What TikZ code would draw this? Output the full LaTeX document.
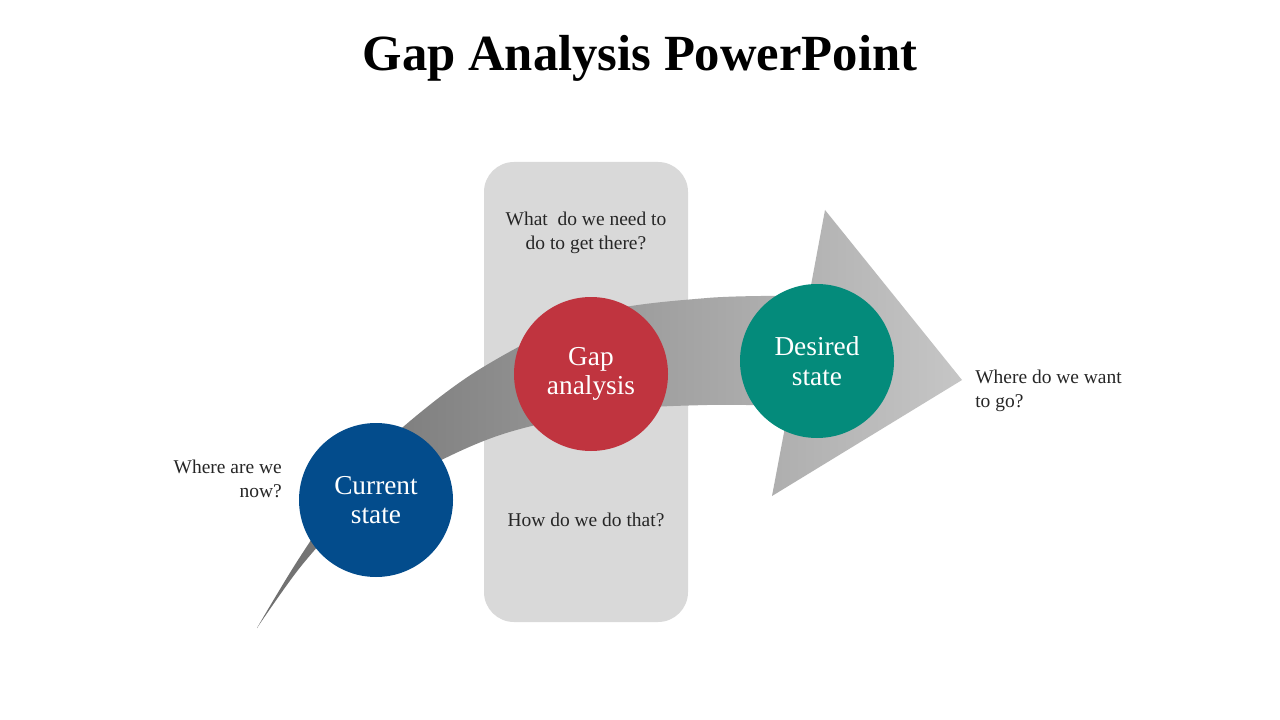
\documentclass[tikz,border=0pt]{standalone}
\usepackage{fontspec}
\setmainfont{Liberation Serif}
\definecolor{boxgray}{HTML}{D9D9D9}
\definecolor{cblue}{HTML}{034C8C}
\definecolor{cred}{HTML}{C0343F}
\definecolor{cteal}{HTML}{048B7B}
\definecolor{arrdark}{HTML}{6E6E6E}
\definecolor{arrlight}{HTML}{C6C6C6}
\begin{document}
\begin{tikzpicture}[x=0.75pt,y=-0.75pt,
  stage/.style={circle,minimum size=154*0.75pt,inner sep=0pt,text=white,align=center,font=\fontsize{20.5}{22}\selectfont},
  note/.style={text=black!85,font=\fontsize{14.6}{18}\selectfont,inner sep=0pt},
  panel/.style={fill=boxgray,rounded corners=30*0.75pt}]
\useasboundingbox (0,0) rectangle (1280,720);
\fill[white] (0,0) rectangle (1280,720);
% title
\node[anchor=base,font=\fontsize{38}{42}\selectfont\bfseries] (title) at (640,71) {Gap Analysis PowerPoint};
% central panel
\path[panel] (484,162) rectangle (688,622);
% curved arrow
\shade[left color=arrdark,right color=arrlight]
  plot[smooth,tension=0.55] coordinates {(257,628) (298,560) (350,484) (395,434) (480,369) (590,315) (707,298) (809,296)}
  -- (825,210) -- (962,380) -- (772,496) -- (789,406)
  -- plot[smooth,tension=0.55] coordinates {(789,406) (707,405) (607,411) (503,434) (420,471) (350,515) (302,565) (257,628)}
  -- cycle;
% circles
\node[stage,fill=cblue] (cur) at (376,500) {Current\\state};
\node[stage,fill=cred] (gap) at (591,374) {Gap\\analysis};
\node[stage,fill=cteal] (des) at (817,361) {Desired\\state};
% notes
\node[note,align=center] (q1) at (586,233) {What\ \ do we need to\\do to get there?};
\node[note,align=center] (q2) at (586,520) {How do we do that?};
\node[note,align=right,anchor=east] (q3) at (282,479) {Where are we\\now?};
\node[note,align=left,anchor=west] (q4) at (975,391) {Where do we want\\to go?};
\end{tikzpicture}
\end{document}
